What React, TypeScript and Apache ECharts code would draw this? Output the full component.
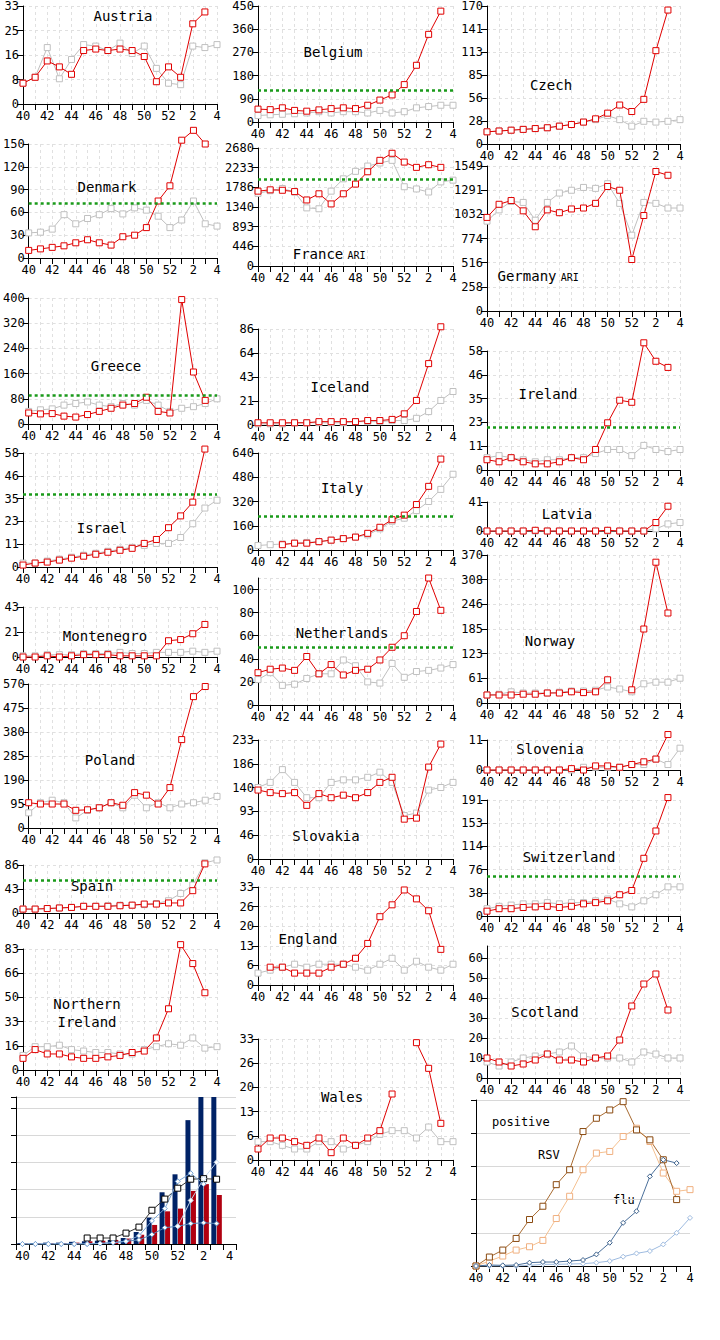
import React, { useEffect, useRef } from "react";
import * as echarts from "echarts";

const weeks = ["40","41","42","43","44","45","46","47","48","49","50","51","52","1","2","3","4"];

const austriaCur = [7,9,14.5,12.5,10,18,18.5,18,18.5,18,16,7.5,12.5,9,27,31];
const austriaPrev = [7,9,19,8.5,15,20,19.5,18,20.5,17,19.5,12,7,6.5,19.5,19,20];
const belgiumCur = [50,48,55,45,42,47,52,55,52,65,85,105,145,220,340,430];
const belgiumPrev = [25,28,30,32,35,40,35,40,40,35,45,35,40,55,60,65,65];
const czechCur = [15,16,17,18,19,20,22,24,27,31,38,48,40,55,115,165];
const czechPrev = [15,16,17,18,19,20,22,24,27,30,35,30,22,28,27,28,30];
const denmarkCur = [10,12,14,16,20,24,20,17,28,30,40,75,95,155,168,150];
const denmarkPrev = [33,34,38,57,45,52,57,65,58,66,63,55,40,50,75,45,42];
const franceCur = [1700,1730,1720,1690,1500,1640,1410,1640,1860,2140,2400,2560,2360,2240,2300,2240];
const francePrev = [1650,1710,1760,1680,1320,1300,1700,1980,2150,2270,2340,2400,1800,1750,1680,1910,1950];
const germanyCur = [1000,1140,1180,1070,900,1080,1050,1090,1100,1150,1330,1290,550,1020,1490,1450];
const germanyPrev = [960,1080,1170,1160,970,1160,1260,1290,1320,1310,1360,1150,810,1160,1150,1100,1100];
const greeceCur = [35,32,33,25,22,30,40,50,60,65,85,40,35,395,165,75];
const greecePrev = [40,45,48,60,65,70,60,55,65,60,75,60,40,50,55,65,80];
const icelandCur = [2,2,2,2,2,3,3,3,3,4,4,5,10,22,55,88];
const icelandPrev = [1,1,1,2,2,2,2,2,3,3,3,4,4,6,12,22,30];
const irelandCur = [5,4,6,4,3,3,4,6,5,10,23,34,33,62,53,50];
const irelandPrev = [6,7,6,5,4,5,5,6,6,8,10,10,7,12,10,9,10];
const israelCur = [1,2,2.5,3.5,4.5,5.5,6.5,7.5,8.5,9.5,12,14,20,26,33,60];
const israelPrev = [2,2,3,4,5,6,7,8,9,10,11,12,12,15,22,30,34];
const italyCur = [null,null,35,45,45,55,65,75,85,110,150,200,230,300,420,600];
const italyPrev = [30,35,40,45,50,55,65,75,85,100,140,190,210,260,320,400,500];
const latviaCur = [0,0,0,0,1,0,0,0,0,0,1,0,0,0,12,35];
const latviaPrev = [0,0,0,0,0,0,0,0,0,0,0,0,0,0,3,10,12];
const montenegroCur = [0,0,1,0,1,2,2,2,1,1,1,1,14,15,20,28];
const montenegroPrev = [1,1,2,2,2,3,3,3,4,3,3,4,4,4,5,4,5];
const netherlandsCur = [28,31,32,30,42,27,35,26,30,31,39,50,60,81,110,82];
const netherlandsPrev = [22,28,17,18,23,27,27,39,34,20,19,36,24,29,30,32,35];
const norwayCur = [20,20,20,22,22,25,25,28,26,28,58,null,33,185,352,225];
const norwayPrev = [20,22,28,25,25,25,27,30,30,32,40,35,28,48,52,52,62];
const polandCur = [100,95,95,95,70,72,80,100,90,140,130,95,160,350,520,560];
const polandPrev = [60,100,110,100,40,70,80,100,80,130,80,100,80,95,100,110,125];
const slovakiaCur = [135,130,128,130,105,128,120,125,120,130,150,160,78,80,180,225];
const slovakiaPrev = [140,150,175,150,120,120,150,155,155,160,170,150,85,90,135,140,150];
const sloveniaCur = [0,0,0,0,0,0,0,0.5,0,1.5,1.5,1,2,3,4,13];
const sloveniaPrev = [0,0,0,0,0,0,0,0,1,1,1,1,2,2,4,2,8];
const spainCur = [7,7,8,9,10,12,12,12,13,14,16,16,18,18,40,88];
const spainPrev = [7,7,8,9,10,12,12,13,14,14,15,17,22,35,50,90,95];
const switzerlandCur = [8,12,12,14,15,16,14,16,20,22,25,35,42,95,140,195];
const switzerlandPrev = [12,16,18,20,20,22,20,22,22,25,28,20,15,25,35,48,48];
const englandCur = [null,6,6,4,4,4,6,7,9,14,23,27,32,29,25,12];
const englandPrev = [4,5,6,7,6,7,7,7,6,5,7,9,5,8,6,5,7];
const scotlandCur = [10,8,6,7,9,12,9,9,8,10,11,19,36,47,52,34];
const scotlandPrev = [8,6,8,10,11,12,13,16,11,10,10,10,8,13,12,10,10];
const nIrelandCur = [8,14,11,11,9,8,8,9,10,12,13,22,42,86,73,53];
const nIrelandPrev = [10,16,16,17,14,13,12,12,11,11,14,16,18,17,22,15,16];
const walesCur = [3,6,6,5,4,6,2,6,4,6,8,18,null,32,25,10];
const walesPrev = [5,5,4,3,3,5,5,3,4,5,7,8,8,6,9,5,5];

const barNavy = [0.03,0.03,0.05,0.05,0.08,0.1,0.12,0.15,0.22,0.44,0.97,1.9,2.56,4.55,6,6];
const barRed = [0.02,0.02,0.03,0.03,0.05,0.1,0.12,0.15,0.2,0.34,0.7,1.2,1.3,1.95,2.2,1.8];
const barBlack = [null,null,null,null,null,0.22,0.22,0.22,0.4,0.62,1.24,1.65,2.05,2.38,2.4,2.38];
const barBlueA = [0,0,0,0,0,0,0.02,0.05,0.1,0.15,0.35,0.6,0.65,0.75,0.78,0.75];
const barBlueB = [0,0,0,0,0,0,0.02,0.05,0.1,0.3,0.85,1.3,2.3,2.6,2.2];
const barBlueC = [null,null,null,null,null,null,null,null,null,null,null,null,0.65,1.6,2.4,3.0];

const posRSV = [0,0.27,0.48,0.83,1.4,1.8,2.45,2.9,4.05,4.45,4.7,4.95,4.1,3.8,3.2,2.0];
const posRSVPrev = [0,0.15,0.3,0.48,0.58,0.77,1.43,2.1,2.9,3.4,3.45,3.9,4.15,3.75,2.8,2.25,2.3];
const posFlu = [0,0.03,0.02,0.03,0.1,0.12,0.12,0.15,0.18,0.35,0.7,1.3,1.65,2.7,3.2,3.1];
const posFluPrev = [0,0,0,0,0.02,0.05,0.05,0.06,0.07,0.1,0.15,0.28,0.38,0.45,0.65,1.0,1.45];

type P = { name: string; sub?: string; cur: any[]; prev: any[]; col: number; top: number; bot: number; max: number; n: number; step?: number; thr?: number; tx: number; ty: number };

const colX = [[23, 194], [258, 195], [487, 193]];

const panels: P[] = [
  { name: "Austria", cur: austriaCur, prev: austriaPrev, col: 0, top: 5, bot: 104, max: 33, n: 4, tx: 123, ty: 16 },
  { name: "Denmark", cur: denmarkCur, prev: denmarkPrev, col: 0, top: 144, bot: 258, max: 150, n: 5, thr: 72, tx: 107, ty: 187 },
  { name: "Greece", cur: greeceCur, prev: greecePrev, col: 0, top: 298, bot: 424, max: 400, n: 5, thr: 90, tx: 116, ty: 366 },
  { name: "Israel", cur: israelCur, prev: israelPrev, col: 0, top: 453, bot: 567, max: 58, n: 5, thr: 37, tx: 102, ty: 528 },
  { name: "Montenegro", cur: montenegroCur, prev: montenegroPrev, col: 0, top: 607, bot: 657, max: 43, n: 2, tx: 105, ty: 636 },
  { name: "Poland", cur: polandCur, prev: polandPrev, col: 0, top: 684, bot: 828, max: 570, n: 6, tx: 110, ty: 760 },
  { name: "Spain", cur: spainCur, prev: spainPrev, col: 0, top: 865, bot: 913, max: 86, n: 2, thr: 58, tx: 92, ty: 886 },
  { name: "Northern\nIreland", cur: nIrelandCur, prev: nIrelandPrev, col: 0, top: 949, bot: 1070, max: 83, n: 5, tx: 87, ty: 1013 },
  { name: "Belgium", cur: belgiumCur, prev: belgiumPrev, col: 1, top: 2, bot: 122, max: 450, n: 5, thr: 125, tx: 333, ty: 52 },
  { name: "France", sub: "ARI", cur: franceCur, prev: francePrev, col: 1, top: 148, bot: 266, max: 2680, n: 6, thr: 1970, tx: 318, ty: 254 },
  { name: "Iceland", cur: icelandCur, prev: icelandPrev, col: 1, top: 329, bot: 425, max: 86, n: 4, tx: 340, ty: 387 },
  { name: "Italy", cur: italyCur, prev: italyPrev, col: 1, top: 453, bot: 550, max: 640, n: 4, thr: 220, tx: 342, ty: 488 },
  { name: "Netherlands", cur: netherlandsCur, prev: netherlandsPrev, col: 1, top: 578, bot: 705, max: 110, n: 0, step: 20, thr: 50, tx: 342, ty: 633 },
  { name: "Slovakia", cur: slovakiaCur, prev: slovakiaPrev, col: 1, top: 740, bot: 859, max: 233, n: 5, tx: 326, ty: 836 },
  { name: "England", cur: englandCur, prev: englandPrev, col: 1, top: 887, bot: 985, max: 33, n: 5, tx: 308, ty: 939 },
  { name: "Wales", cur: walesCur, prev: walesPrev, col: 1, top: 1039, bot: 1160, max: 33, n: 5, tx: 342, ty: 1097 },
  { name: "Czech", cur: czechCur, prev: czechPrev, col: 2, top: 2, bot: 144, max: 170, n: 6, tx: 551, ty: 85 },
  { name: "Germany", sub: "ARI", cur: germanyCur, prev: germanyPrev, col: 2, top: 166, bot: 311, max: 1549, n: 6, tx: 527, ty: 276 },
  { name: "Ireland", cur: irelandCur, prev: irelandPrev, col: 2, top: 351, bot: 470, max: 58, n: 5, thr: 21, tx: 548, ty: 394 },
  { name: "Latvia", cur: latviaCur, prev: latviaPrev, col: 2, top: 502, bot: 531, max: 41, n: 1, tx: 567, ty: 514 },
  { name: "Norway", cur: norwayCur, prev: norwayPrev, col: 2, top: 555, bot: 703, max: 370, n: 6, tx: 550, ty: 641 },
  { name: "Slovenia", cur: sloveniaCur, prev: sloveniaPrev, col: 2, top: 740, bot: 770, max: 11, n: 1, tx: 550, ty: 749 },
  { name: "Switzerland", cur: switzerlandCur, prev: switzerlandPrev, col: 2, top: 800, bot: 916, max: 191, n: 5, thr: 65, tx: 569, ty: 857 },
  { name: "Scotland", cur: scotlandCur, prev: scotlandPrev, col: 2, top: 946, bot: 1078, max: 66, n: 0, step: 10, tx: 545, ty: 1012 },
];

const FONT = "DejaVu Sans Mono";

function buildOption() {
  const grid: any[] = [], xAxis: any[] = [], yAxis: any[] = [], series: any[] = [], graphic: any[] = [];
  const xBase = (gi: number, show = true) => ({
    type: "category", gridIndex: gi, data: weeks, boundaryGap: false,
    axisLine: { lineStyle: { color: "#000" } },
    axisTick: { show: true, interval: 0, length: 6, lineStyle: { color: "#000" } },
    axisLabel: { show, interval: 1, color: "#000", fontFamily: FONT, fontSize: 12, margin: 6 },
    splitLine: { show: true, interval: 0, lineStyle: { color: "#e0e0e0", type: [3, 3] } },
  });
  panels.forEach((p, gi) => {
    const [l, w] = colX[p.col];
    grid.push({ left: l, width: w, top: p.top, height: p.bot - p.top });
    xAxis.push(xBase(gi));
    const interval = p.step ? p.step : p.max / p.n;
    yAxis.push({
      type: "value", gridIndex: gi, min: 0, max: p.max, interval,
      axisLine: { show: true, lineStyle: { color: "#000" } },
      axisTick: { show: true, length: 6, lineStyle: { color: "#000" } },
      axisLabel: {
        color: "#000", fontFamily: FONT, fontSize: 12, margin: 4, showMaxLabel: !p.step,
        formatter: (v: number) => p.step && v % p.step !== 0 ? "" : String(Math.floor(v + 0.3)),
      },
      splitLine: { show: true, lineStyle: { color: "#e0e0e0", type: [3, 3] } },
    });
    series.push({
      type: "line", xAxisIndex: gi, yAxisIndex: gi, data: p.prev, symbol: "rect", symbolSize: 6, clip: false,
      lineStyle: { color: "#c0c0c0", width: 1 }, itemStyle: { color: "#fff", borderColor: "#c0c0c0", borderWidth: 1 }, z: 2,
    });
    const s: any = {
      type: "line", xAxisIndex: gi, yAxisIndex: gi, data: p.cur, symbol: "rect", symbolSize: 6, clip: false,
      lineStyle: { color: "#e00000", width: 1 }, itemStyle: { color: "#fff", borderColor: "#e00000", borderWidth: 1 }, z: 3,
    };
    if (p.thr !== undefined) {
      s.markLine = { silent: true, symbol: "none", label: { show: false }, data: [{ yAxis: p.thr }],
        lineStyle: { color: "#1a9a1a", type: [3, 3], width: 2.5 } };
    }
    series.push(s);
    graphic.push({ type: "text", x: p.tx, y: p.ty, style: { text: p.name, font: `14px "${FONT}"`, fill: "#000", align: "center", verticalAlign: "middle", lineHeight: 18 }, z: 10 });
    if (p.sub) {
      graphic.push({ type: "text", x: p.tx + (p.name.length * 8.5) / 2 + 4, y: p.ty + 1, style: { text: p.sub, font: `10px "${FONT}"`, fill: "#000", align: "left", verticalAlign: "middle" }, z: 10 });
    }
  });

  let gi = panels.length;
  grid.push({ left: 16, width: 220, top: 1097, height: 147 });
  xAxis.push({ ...xBase(gi), boundaryGap: true, splitLine: { show: false } });
  yAxis.push({ type: "value", gridIndex: gi, min: 0, max: 5.4, interval: 1, axisLabel: { show: false },
    axisLine: { show: true, lineStyle: { color: "#000" } }, axisTick: { show: true, length: 5 },
    splitLine: { lineStyle: { color: "#d8d8d8" } } });
  series.push({ type: "bar", xAxisIndex: gi, yAxisIndex: gi, data: barNavy, itemStyle: { color: "#002266" }, barWidth: 5, barGap: "10%" });
  series.push({ type: "bar", xAxisIndex: gi, yAxisIndex: gi, data: barRed, itemStyle: { color: "#b00010" }, barWidth: 5 });
  series.push({ type: "line", xAxisIndex: gi, yAxisIndex: gi, data: barBlack, symbol: "rect", symbolSize: 6, lineStyle: { color: "#333", width: 1 }, itemStyle: { color: "#fff", borderColor: "#000" }, z: 5 });
  series.push({ type: "line", xAxisIndex: gi, yAxisIndex: gi, data: barBlueA, symbol: "diamond", symbolSize: 5, lineStyle: { color: "#5588bb", width: 1 }, itemStyle: { color: "#fff", borderColor: "#5588bb" }, z: 5 });
  series.push({ type: "line", xAxisIndex: gi, yAxisIndex: gi, data: barBlueB, symbol: "diamond", symbolSize: 5, lineStyle: { color: "#7aa6d6", width: 1 }, itemStyle: { color: "#fff", borderColor: "#7aa6d6" }, z: 5 });
  series.push({ type: "line", xAxisIndex: gi, yAxisIndex: gi, data: barBlueC, symbol: "diamond", symbolSize: 5, lineStyle: { color: "#c4d8ee", width: 1 }, itemStyle: { color: "#fff", borderColor: "#c4d8ee" }, z: 5 });

  gi++;
  grid.push({ left: 476, width: 214, top: 1100, height: 166 });
  xAxis.push({ ...xBase(gi), splitLine: { show: false } });
  yAxis.push({ type: "value", gridIndex: gi, min: 0, max: 5, interval: 1, axisLabel: { show: false },
    axisLine: { show: true, lineStyle: { color: "#000" } }, axisTick: { show: true, length: 5 },
    splitLine: { lineStyle: { color: "#d8d8d8" } } });
  series.push({ type: "line", xAxisIndex: gi, yAxisIndex: gi, data: posRSVPrev, symbol: "rect", symbolSize: 6, lineStyle: { color: "#f5c090", width: 1 }, itemStyle: { color: "#fff", borderColor: "#f0b080" } });
  series.push({ type: "line", xAxisIndex: gi, yAxisIndex: gi, data: posRSV, symbol: "rect", symbolSize: 6, lineStyle: { color: "#a86a30", width: 1 }, itemStyle: { color: "#fff", borderColor: "#8a4a10" } });
  series.push({ type: "line", xAxisIndex: gi, yAxisIndex: gi, data: posFluPrev, symbol: "diamond", symbolSize: 5, lineStyle: { color: "#9ebbe0", width: 1 }, itemStyle: { color: "#fff", borderColor: "#9ebbe0" } });
  series.push({ type: "line", xAxisIndex: gi, yAxisIndex: gi, data: posFlu, symbol: "diamond", symbolSize: 5, lineStyle: { color: "#4a6f9a", width: 1 }, itemStyle: { color: "#fff", borderColor: "#3a5f8a" } });
  graphic.push({ type: "text", x: 492, y: 1122, style: { text: "positive", font: `12px "${FONT}"`, fill: "#000", verticalAlign: "middle" } });
  graphic.push({ type: "text", x: 538, y: 1155, style: { text: "RSV", font: `12px "${FONT}"`, fill: "#000", verticalAlign: "middle" } });
  graphic.push({ type: "text", x: 613, y: 1200, style: { text: "flu", font: `12px "${FONT}"`, fill: "#000", verticalAlign: "middle" } });

  return { animation: false, backgroundColor: "#fff", grid, xAxis, yAxis, series, graphic };
}

export default function App() {
  const ref = useRef<HTMLDivElement>(null);
  useEffect(() => {
    const chart = echarts.init(ref.current!, undefined, { renderer: "svg" });
    chart.setOption(buildOption() as any);
    return () => chart.dispose();
  }, []);
  return <div ref={ref} style={{ position: "absolute", left: 0, top: 0, width: 720, height: 1340, background: "#fff" }} />;
}
